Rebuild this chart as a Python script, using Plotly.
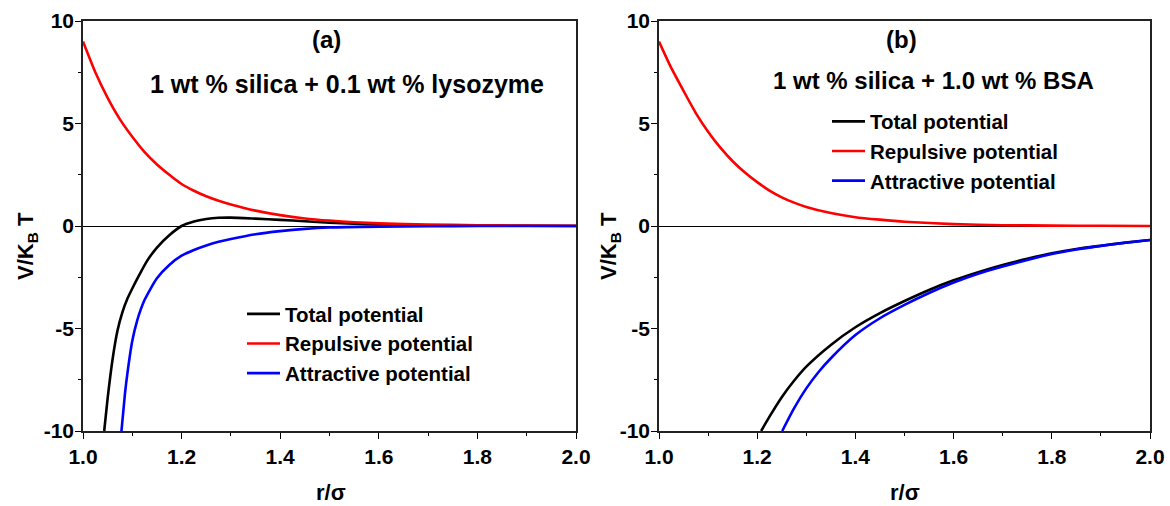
import plotly.graph_objects as go

# ---------------- data ----------------
# Panel (a): 1 wt % silica + 0.1 wt % lysozyme
r_tot_a = [1.043, 1.05, 1.06, 1.07, 1.08, 1.09, 1.1, 1.115, 1.13, 1.15, 1.175, 1.2, 1.225,
           1.25, 1.275, 1.3, 1.35, 1.4, 1.45, 1.5, 1.55, 1.6, 1.7, 1.8, 1.9, 2.0]
v_tot_a = [-10.0, -8.4, -6.5, -5.1, -4.2, -3.55, -3.05, -2.35, -1.7, -1.05, -0.45, 0.0, 0.22,
           0.34, 0.4, 0.41, 0.36, 0.3, 0.23, 0.16, 0.11, 0.07, 0.03, 0.02, 0.01, 0.0]

r_rep_a = [1.0, 1.025, 1.05, 1.075, 1.1, 1.125, 1.15, 1.175, 1.2, 1.225, 1.25, 1.275, 1.3,
           1.35, 1.4, 1.45, 1.5, 1.55, 1.6, 1.7, 1.8, 1.9, 2.0]
v_rep_a = [9.0, 7.5, 6.25, 5.2, 4.35, 3.6, 3.0, 2.5, 2.05, 1.72, 1.45, 1.23, 1.05,
           0.75, 0.53, 0.37, 0.26, 0.18, 0.13, 0.07, 0.04, 0.02, 0.01]

r_att_a = [1.078, 1.085, 1.09, 1.1, 1.11, 1.125, 1.15, 1.175, 1.2, 1.225, 1.25, 1.275, 1.3,
           1.35, 1.4, 1.45, 1.5, 1.6, 1.7, 1.8, 1.9, 2.0]
v_att_a = [-10.0, -8.2, -7.2, -5.6, -4.6, -3.6, -2.55, -1.9, -1.45, -1.17, -0.95, -0.77, -0.63,
           -0.4, -0.25, -0.14, -0.07, -0.03, -0.01, 0.0, 0.0, 0.0]

# Panel (b): 1 wt % silica + 1.0 wt % BSA
r_tot_b = [1.208, 1.225, 1.25, 1.275, 1.3, 1.35, 1.4, 1.45, 1.5, 1.55, 1.6, 1.65, 1.7,
           1.75, 1.8, 1.85, 1.9, 1.95, 2.0]
v_tot_b = [-10.0, -9.3, -8.35, -7.55, -6.86, -5.8, -4.94, -4.25, -3.66, -3.12, -2.65, -2.25,
           -1.9, -1.6, -1.33, -1.12, -0.96, -0.81, -0.68]

r_rep_b = [1.0, 1.025, 1.05, 1.075, 1.1, 1.125, 1.15, 1.175, 1.2, 1.225, 1.25, 1.275, 1.3,
           1.35, 1.4, 1.45, 1.5, 1.6, 1.7, 1.8, 1.9, 2.0]
v_rep_b = [9.0, 7.71, 6.59, 5.51, 4.6, 3.82, 3.16, 2.61, 2.14, 1.73, 1.4, 1.14, 0.93,
           0.63, 0.43, 0.31, 0.21, 0.09, 0.04, 0.02, 0.01, 0.0]

r_att_b = [1.251, 1.275, 1.3, 1.325, 1.35, 1.4, 1.45, 1.5, 1.55, 1.6, 1.65, 1.7, 1.75,
           1.8, 1.85, 1.9, 1.95, 2.0]
v_att_b = [-10.0, -8.9, -7.92, -7.12, -6.45, -5.32, -4.5, -3.85, -3.27, -2.76, -2.33, -1.98,
           -1.66, -1.37, -1.15, -0.97, -0.82, -0.68]

series_names = ["Total potential", "Repulsive potential", "Attractive potential"]
x_ticks = [1.0, 1.2, 1.4, 1.6, 1.8, 2.0]
x_tick_labels = ["1.0", "1.2", "1.4", "1.6", "1.8", "2.0"]
x_minor = [1.1, 1.3, 1.5, 1.7, 1.9]
y_ticks = [-10, -5, 0, 5, 10]
y_tick_labels = ["-10", "-5", "0", "5", "10"]
y_minor = [-7.5, -2.5, 2.5, 7.5]
titles = ["(a)", "(b)"]
subtitles = ["1 wt % silica + 0.1 wt % lysozyme", "1 wt % silica + 1.0 wt % BSA"]

# ---------------- figure ----------------
FONT = "Liberation Sans, Arial, sans-serif"
colors = ["#000000", "#FF0000", "#0000FF"]

W, H = 1170, 506


def fx(px):
    return px / W


def fy(py):
    return (H - py) / H


fig = go.Figure()
panels = [
    ("x", "y", "legend", [(r_tot_a, v_tot_a), (r_rep_a, v_rep_a), (r_att_a, v_att_a)]),
    ("x2", "y2", "legend2", [(r_tot_b, v_tot_b), (r_rep_b, v_rep_b), (r_att_b, v_att_b)]),
]
for xa, ya, lg, data in panels:
    for (xs, ys), name, col in zip(data, series_names, colors):
        fig.add_trace(go.Scatter(x=xs, y=ys, mode="lines", name=name, xaxis=xa, yaxis=ya,
                                 legend=lg, line=dict(color=col, width=2.6, shape="spline",
                                                      smoothing=0.6)))

dom_a = [fx(83), fx(576)]
dom_b = [fx(659), fx(1150)]
ydom = [fy(431), fy(21)]

tickfont = dict(family=FONT, size=21, color="black", weight="bold")


def xax(dom, anchor, overlay=None):
    d = dict(domain=dom, anchor=anchor, range=[1, 2], showgrid=False, zeroline=False,
             automargin=False)
    if overlay is None:
        d.update(tickmode="array", tickvals=x_ticks, ticktext=x_tick_labels, ticks="outside",
                 ticklen=6, tickwidth=1.4, tickcolor="black", showline=True,
                 linecolor="#222", linewidth=1.6, mirror=True, tickfont=tickfont,
                 ticklabeloverflow="allow",
                 minor=dict(tickmode="array", tickvals=x_minor, ticks="outside", ticklen=3,
                            tickwidth=1.2, tickcolor="black"))
    else:
        d.update(overlaying=overlay, tickmode="array", tickvals=x_ticks, ticks="inside",
                 ticklen=6, tickwidth=1.4, tickcolor="black", showticklabels=False,
                 showline=False,
                 minor=dict(tickmode="array", tickvals=x_minor, ticks="inside", ticklen=3,
                            tickwidth=1.2, tickcolor="black"))
    return d


def yax(anchor, overlay=None):
    d = dict(domain=ydom, anchor=anchor, range=[-10, 10], showgrid=False, automargin=False)
    if overlay is None:
        d.update(tickmode="array", tickvals=y_ticks, ticktext=y_tick_labels, ticks="outside",
                 ticklen=6, tickwidth=1.4, tickcolor="black", showline=True,
                 linecolor="#222", linewidth=1.6, mirror=True, tickfont=tickfont,
                 ticklabelstandoff=-3,
                 zeroline=True, zerolinecolor="black", zerolinewidth=1.2,
                 minor=dict(tickmode="array", tickvals=y_minor, ticks="outside", ticklen=3,
                            tickwidth=1.2, tickcolor="black"))
    else:
        d.update(overlaying=overlay, zeroline=False, tickmode="array", tickvals=y_ticks,
                 ticks="inside", ticklen=6, tickwidth=1.4, tickcolor="black",
                 showticklabels=False, showline=False,
                 minor=dict(tickmode="array", tickvals=y_minor, ticks="inside", ticklen=3,
                            tickwidth=1.2, tickcolor="black"))
    return d


legfont = dict(family=FONT, size=20.5, color="black", weight="bold")
fig.update_layout(
    width=W, height=H,
    margin=dict(l=0, r=0, t=0, b=0, pad=0),
    paper_bgcolor="white", plot_bgcolor="white",
    font=dict(family=FONT, color="black", weight="bold"),
    xaxis=xax(dom_a, "y"), yaxis=yax("x"),
    xaxis2=xax(dom_b, "y2"), yaxis2=yax("x2"),
    xaxis3=xax(dom_a, "y", overlay="x"), yaxis3=yax("x", overlay="y"),
    xaxis4=xax(dom_b, "y2", overlay="x2"), yaxis4=yax("x2", overlay="y2"),
    legend=dict(x=fx(242), y=fy(294), xanchor="left", yanchor="top", itemwidth=33,
                bgcolor="rgba(0,0,0,0)", font=legfont, tracegroupgap=0),
    legend2=dict(x=fx(827), y=fy(101.5), xanchor="left", yanchor="top", itemwidth=33,
                 bgcolor="rgba(0,0,0,0)", font=legfont, tracegroupgap=0),
    showlegend=True,
)

ann = []
ytitle = "V/K<sub>B</sub> T"
for xc in [27, 610]:
    ann.append(dict(x=fx(xc), y=fy(246), xref="paper", yref="paper", text=ytitle,
                    textangle=-90, showarrow=False, xanchor="center", yanchor="middle",
                    font=dict(family=FONT, size=22, color="black", weight="bold")))
for xc in [331, 904.5]:
    ann.append(dict(x=fx(xc), y=fy(492), xref="paper", yref="paper", text="r/σ",
                    showarrow=False, xanchor="center", yanchor="middle",
                    font=dict(family=FONT, size=22, color="black", weight="bold")))
for xc, t in zip([326, 901], titles):
    ann.append(dict(x=fx(xc), y=fy(40), xref="paper", yref="paper", text=t,
                    showarrow=False, xanchor="center", yanchor="middle",
                    font=dict(family=FONT, size=24, color="black", weight="bold")))
for xc, yc, sz, t in zip([347, 933.5], [84, 81], [25, 24], subtitles):
    ann.append(dict(x=fx(xc), y=fy(yc), xref="paper", yref="paper", text=t,
                    showarrow=False, xanchor="center", yanchor="middle",
                    font=dict(family=FONT, size=sz, color="black", weight="bold")))
fig.update_layout(annotations=ann)

# remove the page's default body margin so the figure fills the 1170x506 window exactly
fig.write_html("out.html", config={"displayModeBar": False},
               post_script="document.body.style.margin='0';document.body.style.overflow='hidden';")
